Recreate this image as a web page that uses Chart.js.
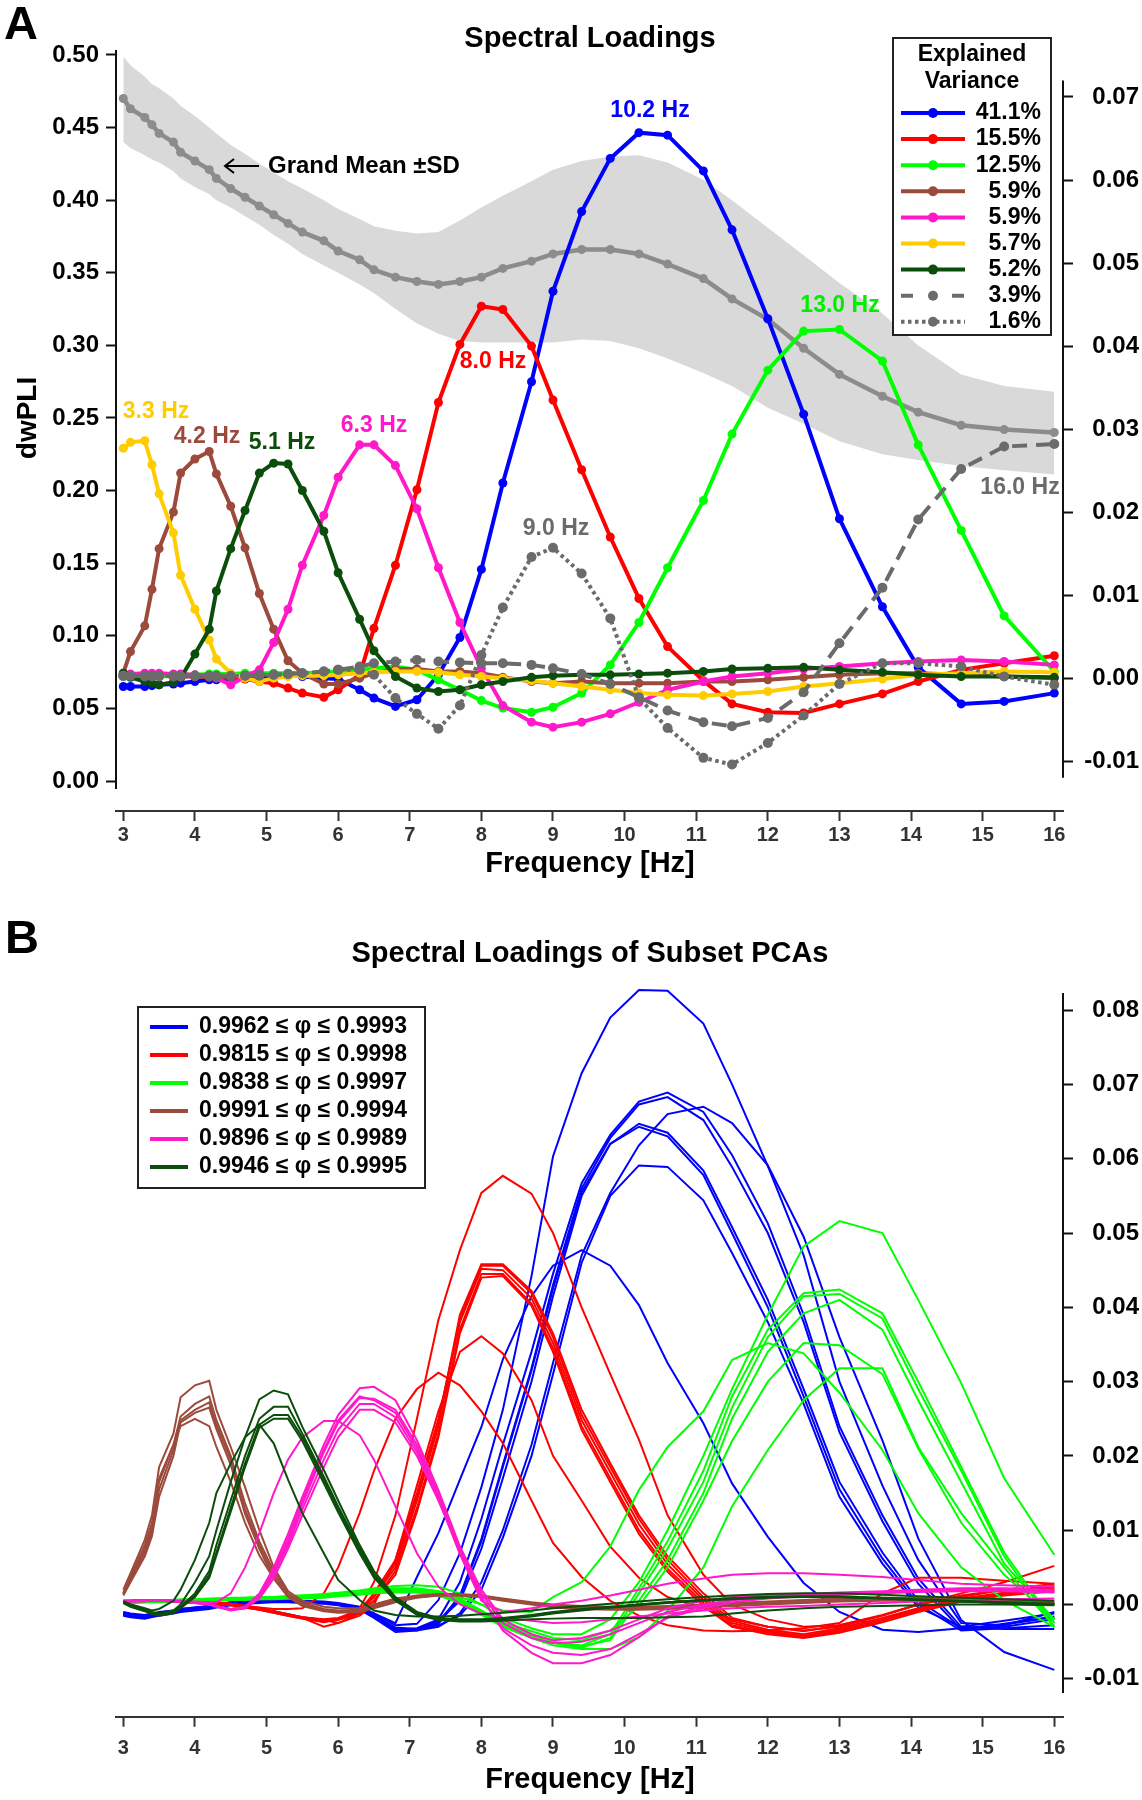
<!DOCTYPE html>
<html>
<head>
<meta charset="utf-8">
<title>Spectral Loadings</title>
<script src="https://cdn.jsdelivr.net/npm/chart.js@4.4.1/dist/chart.umd.min.js"></script>
<style>
  html, body { margin: 0; padding: 0; background: #fff; }
  canvas { display: block; }
</style>
</head>
<body>
<canvas id="chartA" width="1142" height="890"></canvas>
<canvas id="chartB" width="1142" height="910"></canvas>
<script>
// Frequency grid (Hz) shared by every curve
const freqs = [3.0,3.1,3.3,3.4,3.5,3.7,3.8,4.0,4.2,4.3,4.5,4.7,4.9,5.1,5.3,5.5,5.8,6.0,6.3,6.5,
  6.8,7.1,7.4,7.7,8.0,8.3,8.7,9.0,9.4,9.8,10.2,10.6,11.1,11.5,12.0,12.5,13.0,13.6,14.1,14.7,15.3,16.0];
const xTicks = [3,4,5,6,7,8,9,10,11,12,13,14,15,16];
const yTicksA = [0,0.05,0.10,0.15,0.20,0.25,0.30,0.35,0.40,0.45,0.50];
const y2TicksA = [-0.01,0,0.01,0.02,0.03,0.04,0.05,0.06,0.07];
const y2TicksB = [-0.01,0,0.01,0.02,0.03,0.04,0.05,0.06,0.07,0.08];

// Panel A - grand mean dwPLI and +-SD band (left axis)
const grandMean = [.470,.463,.457,.452,.446,.440,.433,.427,.421,.415,.408,.402,.396,.390,.384,.378,.372,.365,.359,.352,
  .347,.344,.342,.344,.347,.353,.358,.363,.366,.366,.363,.356,.346,.332,.318,.298,.280,.265,.254,.245,.242,.240];
const sdUpper = [.499,.493,.485,.480,.477,.470,.465,.458,.450,.446,.438,.432,.425,.419,.413,.408,.400,.394,.387,.382,
  .379,.377,.378,.386,.395,.403,.413,.421,.427,.430,.431,.426,.414,.400,.381,.362,.343,.322,.300,.280,.272,.268];
const sdLower = [.440,.436,.431,.428,.426,.420,.415,.409,.404,.400,.395,.389,.383,.376,.370,.363,.355,.350,.342,.336,
  .325,.315,.308,.303,.302,.302,.302,.302,.304,.303,.298,.291,.281,.272,.257,.246,.234,.225,.221,.217,.214,.211];

// Panel A - spectral loadings (right axis)
const loadBlue = [-.0010,-.0010,-.0010,-.0009,-.0008,-.0007,-.0006,-.0004,-.0002,-.0002,
  -.0001,.0000,.0000,.0001,.0004,.0002,.0000,-.0001,-.0014,-.0024,
  -.0034,-.0026,.0004,.0049,.0131,.0235,.0357,.0466,.0562,.0626,
  .0657,.0654,.0611,.0540,.0433,.0318,.0192,.0086,.0013,-.0031,-.0028,-.0018];
const loadRed = [.0002,.0002,.0003,.0003,.0003,.0002,.0002,.0002,.0001,.0001,
  .0000,-.0001,-.0004,-.0006,-.0012,-.0018,-.0023,-.0014,.0004,.0060,
  .0136,.0227,.0332,.0402,.0448,.0444,.0400,.0335,.0251,.0170,
  .0096,.0038,-.0003,-.0031,-.0041,-.0042,-.0031,-.0019,-.0004,.0010,.0018,.0027];
const loadGreen = [.0002,.0002,.0002,.0002,.0003,.0003,.0004,.0004,.0005,.0005,
  .0005,.0006,.0006,.0006,.0006,.0006,.0007,.0008,.0010,.0012,
  .0014,.0010,-.0002,-.0014,-.0027,-.0036,-.0041,-.0035,-.0018,.0016,
  .0067,.0133,.0214,.0294,.0371,.0418,.0420,.0382,.0281,.0178,.0075,.0008];
const loadBrown = [.0006,.0032,.0063,.0107,.0156,.0200,.0247,.0264,.0273,.0246,
  .0207,.0157,.0102,.0059,.0021,.0006,-.0007,-.0007,.0000,.0006,
  .0011,.0011,.0008,.0008,.0006,.0001,-.0004,-.0006,-.0004,-.0006,
  -.0006,-.0006,-.0004,-.0004,-.0002,.0001,.0004,.0006,.0006,.0004,.0002,.0000];
const loadPink = [.0005,.0005,.0006,.0006,.0006,.0005,.0005,.0004,.0003,.0000,
  -.0008,.0002,.0010,.0043,.0083,.0136,.0196,.0242,.0281,.0281,
  .0256,.0204,.0133,.0067,.0012,-.0033,-.0053,-.0059,-.0053,-.0043,
  -.0029,-.0014,-.0004,.0002,.0006,.0011,.0014,.0018,.0020,.0022,.0020,.0016];
const loadYellow = [.0277,.0284,.0286,.0257,.0222,.0175,.0124,.0083,.0046,.0023,
  .0006,.0000,-.0004,.0000,.0002,.0003,.0003,.0004,.0006,.0007,
  .0008,.0008,.0007,.0004,.0002,.0000,-.0003,-.0006,-.0010,-.0014,
  -.0018,-.0020,-.0021,-.0019,-.0016,-.0010,-.0006,-.0001,.0004,.0006,.0008,.0007];
const loadDkGreen = [.0006,.0001,-.0004,-.0006,-.0008,-.0005,.0000,.0029,.0059,.0105,
  .0156,.0202,.0247,.0259,.0258,.0226,.0177,.0127,.0071,.0033,
  .0002,-.0012,-.0016,-.0014,-.0008,-.0004,.0001,.0003,.0004,.0004,
  .0005,.0006,.0008,.0011,.0012,.0013,.0010,.0007,.0004,.0002,.0002,.0001];
const loadDashed = [.0003,.0003,.0002,.0002,.0002,.0002,.0002,.0002,.0002,.0002,
  .0002,.0003,.0003,.0004,.0005,.0006,.0008,.0010,.0014,.0018,
  .0020,.0022,.0020,.0019,.0018,.0018,.0016,.0012,.0005,-.0007,
  -.0023,-.0039,-.0053,-.0058,-.0048,-.0017,.0042,.0109,.0191,.0252,.0279,.0282];
const loadDotted = [.0003,.0003,.0003,.0003,.0003,.0003,.0003,.0003,.0003,.0003,
  .0003,.0003,.0004,.0004,.0005,.0006,.0008,.0010,.0010,.0004,
  -.0024,-.0043,-.0061,-.0033,.0028,.0085,.0146,.0157,.0126,.0072,
  -.0024,-.0060,-.0096,-.0104,-.0078,-.0045,-.0007,.0018,.0018,.0014,.0002,-.0008];
const variance = ['41.1%','15.5%','12.5%','5.9%','5.9%','5.7%','5.2%','3.9%','1.6%'];

// Panel B - loadings of the subset PCAs (right axis)
const subsetBlue = [
  [-.0010,-.0012,-.0014,-.0012,-.0010,-.0008,-.0006,-.0004,-.0002,.0000,.0003,.0005,.0006,.0006,.0006,.0005,.0004,.0002,-.0003,-.0012,
   -.0028,-.0026,.0006,.0069,.0158,.0262,.0442,.0603,.0715,.0790,.0827,.0826,.0782,.0700,.0590,.0470,.0300,.0160,.0060,-.0025,-.0028,-.0010],
  [-.0013,-.0015,-.0017,-.0015,-.0013,-.0010,-.0008,-.0006,-.0004,-.0002,.0001,.0003,.0004,.0004,.0004,.0003,.0002,.0001,-.0005,-.0016,
   -.0034,-.0032,-.0020,.0030,.0115,.0215,.0340,.0445,.0567,.0632,.0677,.0689,.0663,.0605,.0513,.0390,.0240,.0120,.0035,-.0030,-.0022,-.0012],
  [-.0014,-.0016,-.0018,-.0016,-.0014,-.0011,-.0009,-.0007,-.0005,-.0003,.0000,.0002,.0003,.0004,.0004,.0003,.0002,.0000,-.0006,-.0017,
   -.0036,-.0034,-.0024,.0012,.0088,.0188,.0318,.0430,.0560,.0628,.0673,.0683,.0652,.0589,.0500,.0380,.0232,.0112,.0028,-.0034,-.0026,-.0016],
  [-.0011,-.0013,-.0015,-.0013,-.0011,-.0009,-.0007,-.0005,-.0003,-.0001,.0002,.0004,.0005,.0005,.0005,.0004,.0003,.0001,-.0005,-.0015,
   -.0033,-.0035,-.0030,-.0012,.0030,.0100,.0215,.0325,.0470,.0554,.0618,.0660,.0670,.0648,.0591,.0495,.0360,.0221,.0089,-.0021,-.0064,-.0088],
  [-.0012,-.0014,-.0016,-.0014,-.0012,-.0009,-.0007,-.0005,-.0003,-.0001,.0002,.0004,.0005,.0005,.0004,.0003,.0002,.0000,-.0006,-.0016,
   -.0035,-.0033,-.0022,.0005,.0075,.0170,.0300,.0415,.0550,.0620,.0647,.0635,.0584,.0508,.0410,.0290,.0165,.0070,.0005,-.0032,-.0030,-.0020],
  [-.0015,-.0017,-.0019,-.0017,-.0015,-.0012,-.0010,-.0008,-.0006,-.0004,-.0001,.0001,.0002,.0003,.0003,.0002,.0001,-.0001,-.0007,-.0018,
   -.0037,-.0035,-.0026,.0010,.0085,.0185,.0315,.0425,.0555,.0620,.0643,.0630,.0578,.0500,.0400,.0280,.0155,.0062,.0000,-.0035,-.0032,-.0028],
  [-.0011,-.0013,-.0015,-.0013,-.0011,-.0008,-.0006,-.0004,-.0002,.0000,.0003,.0005,.0006,.0006,.0005,.0004,.0003,.0001,-.0004,-.0014,
   -.0031,-.0033,-.0028,-.0015,.0020,.0090,.0200,.0310,.0460,.0550,.0591,.0589,.0544,.0473,.0380,.0270,.0145,.0055,-.0004,-.0030,-.0033,-.0033],
  [-.0013,-.0015,-.0017,-.0015,-.0013,-.0010,-.0008,-.0006,-.0004,-.0002,.0001,.0003,.0004,.0005,.0005,.0004,.0003,.0001,-.0004,-.0012,
   -.0025,.0037,.0096,.0168,.0239,.0330,.0415,.0456,.0477,.0456,.0403,.0325,.0244,.0163,.0091,.0029,-.0010,-.0034,-.0037,-.0032,-.0027,-.0017]
];
const subsetRed = [
  [.0003,.0003,.0004,.0004,.0004,.0004,.0003,.0003,.0002,.0001,-.0001,-.0004,-.0007,-.0011,-.0015,-.0019,-.0024,-.0020,-.0005,.0030,
   .0120,.0250,.0383,.0477,.0554,.0577,.0553,.0500,.0400,.0310,.0222,.0120,.0040,.0000,-.0020,-.0030,-.0028,-.0015,.0000,.0015,.0030,.0052],
  [.0005,.0005,.0006,.0006,.0006,.0006,.0005,.0005,.0004,.0003,.0001,-.0002,-.0005,-.0009,-.0013,-.0017,-.0021,-.0025,-.0015,.0000,
   .0060,.0160,.0260,.0340,.0361,.0338,.0275,.0200,.0140,.0078,.0036,.0010,-.0005,-.0020,-.0030,-.0035,-.0030,-.0015,.0000,.0010,.0020,.0025],
  [.0004,.0004,.0005,.0005,.0005,.0005,.0004,.0004,.0003,.0002,.0000,-.0002,-.0004,-.0006,-.0006,-.0005,.0015,.0050,.0123,.0180,
   .0250,.0290,.0312,.0295,.0260,.0217,.0140,.0083,.0037,.0005,-.0015,-.0028,-.0035,-.0036,-.0035,-.0032,-.0025,.0015,.0036,.0036,.0032,.0028],
  [.0004,.0004,.0005,.0005,.0005,.0005,.0004,.0004,.0003,.0002,.0000,-.0003,-.0006,-.0010,-.0014,-.0018,-.0022,-.0020,-.0010,.0010,
   .0050,.0140,.0240,.0385,.0456,.0456,.0419,.0360,.0255,.0185,.0115,.0060,.0010,-.0022,-.0034,-.0040,-.0032,-.0018,-.0005,.0008,.0016,.0024],
  [.0005,.0005,.0006,.0006,.0006,.0006,.0005,.0005,.0004,.0003,.0001,-.0002,-.0005,-.0009,-.0013,-.0017,-.0020,-.0018,-.0008,.0015,
   .0060,.0150,.0250,.0380,.0452,.0450,.0412,.0352,.0248,.0178,.0108,.0054,.0006,-.0025,-.0036,-.0042,-.0034,-.0020,-.0006,.0007,.0015,.0022],
  [.0003,.0003,.0004,.0004,.0004,.0004,.0003,.0003,.0002,.0001,-.0001,-.0004,-.0007,-.0011,-.0015,-.0019,-.0023,-.0021,-.0012,.0005,
   .0045,.0130,.0230,.0370,.0445,.0445,.0405,.0345,.0240,.0170,.0100,.0048,.0002,-.0028,-.0038,-.0044,-.0036,-.0022,-.0008,.0005,.0014,.0020],
  [.0004,.0004,.0005,.0005,.0005,.0005,.0004,.0004,.0003,.0002,.0000,-.0003,-.0006,-.0010,-.0014,-.0018,-.0030,-.0025,-.0012,.0005,
   .0040,.0125,.0225,.0365,.0440,.0442,.0402,.0340,.0235,.0165,.0095,.0044,-.0002,-.0030,-.0040,-.0045,-.0038,-.0024,-.0010,.0004,.0012,.0018],
  [.0005,.0005,.0006,.0006,.0006,.0006,.0005,.0005,.0004,.0003,.0001,-.0002,-.0005,-.0009,-.0013,-.0017,-.0021,-.0019,-.0009,.0012,
   .0055,.0145,.0245,.0390,.0458,.0458,.0422,.0365,.0262,.0190,.0120,.0065,.0015,-.0018,-.0030,-.0036,-.0028,-.0014,.0000,.0012,.0020,.0028]
];
const subsetGreen = [
  [.0004,.0004,.0005,.0005,.0006,.0006,.0007,.0007,.0008,.0008,.0009,.0009,.0010,.0010,.0011,.0012,.0014,.0016,.0019,.0022,
   .0025,.0026,.0024,.0015,.0000,-.0018,-.0032,-.0040,-.0040,-.0020,.0030,.0100,.0200,.0290,.0390,.0482,.0516,.0500,.0410,.0298,.0170,.0067],
  [.0003,.0003,.0004,.0004,.0005,.0005,.0006,.0006,.0006,.0007,.0007,.0008,.0008,.0009,.0009,.0010,.0011,.0013,.0015,.0018,
   .0020,.0021,.0018,.0008,-.0008,-.0025,-.0040,-.0050,-.0055,-.0040,.0022,.0085,.0180,.0280,.0370,.0419,.0424,.0392,.0300,.0185,.0070,-.0025],
  [.0002,.0002,.0003,.0003,.0004,.0004,.0005,.0005,.0005,.0006,.0006,.0007,.0007,.0008,.0008,.0009,.0010,.0012,.0014,.0016,
   .0018,.0018,.0014,.0004,-.0012,-.0028,-.0042,-.0052,-.0058,-.0045,.0015,.0075,.0165,.0265,.0360,.0415,.0418,.0385,.0290,.0180,.0065,-.0030],
  [.0003,.0003,.0003,.0004,.0004,.0005,.0005,.0005,.0006,.0006,.0007,.0007,.0008,.0008,.0009,.0010,.0011,.0012,.0014,.0017,
   .0019,.0020,.0016,.0006,-.0010,-.0026,-.0041,-.0051,-.0056,-.0048,.0005,.0060,.0150,.0250,.0340,.0392,.0410,.0370,.0275,.0165,.0055,-.0020],
  [.0004,.0004,.0004,.0005,.0005,.0006,.0006,.0007,.0007,.0008,.0008,.0009,.0009,.0010,.0011,.0012,.0013,.0015,.0017,.0020,
   .0022,.0022,.0018,.0010,.0000,-.0008,-.0010,.0010,.0030,.0078,.0154,.0212,.0260,.0329,.0352,.0338,.0285,.0208,.0123,.0050,.0006,-.0030],
  [.0003,.0003,.0004,.0004,.0005,.0005,.0005,.0006,.0006,.0007,.0007,.0008,.0008,.0009,.0009,.0010,.0011,.0012,.0014,.0016,
   .0018,.0019,.0016,.0006,-.0010,-.0024,-.0036,-.0045,-.0048,-.0035,-.0002,.0050,.0140,.0220,.0300,.0352,.0349,.0310,.0210,.0110,.0040,-.0020],
  [.0002,.0002,.0003,.0003,.0003,.0004,.0004,.0005,.0005,.0005,.0006,.0006,.0007,.0007,.0008,.0008,.0009,.0011,.0013,.0015,
   .0016,.0016,.0012,.0002,-.0014,-.0030,-.0045,-.0055,-.0060,-.0060,-.0044,-.0008,.0050,.0132,.0208,.0275,.0318,.0318,.0212,.0123,.0050,-.0030]
];
const subsetBrown = [
  [.0020,.0042,.0087,.0120,.0185,.0230,.0279,.0295,.0301,.0262,.0212,.0158,.0100,.0050,.0018,.0005,-.0003,-.0005,-.0005,.0000,
   .0008,.0012,.0014,.0014,.0012,.0008,.0003,.0000,-.0002,-.0003,-.0003,-.0002,.0000,.0002,.0004,.0006,.0008,.0009,.0009,.0008,.0006,.0004],
  [.0016,.0035,.0075,.0105,.0165,.0215,.0253,.0270,.0280,.0248,.0200,.0136,.0085,.0045,.0015,.0002,-.0006,-.0008,-.0007,-.0002,
   .0006,.0011,.0013,.0013,.0011,.0007,.0002,-.0002,-.0004,-.0005,-.0005,-.0004,-.0002,.0000,.0002,.0004,.0006,.0007,.0007,.0006,.0004,.0002],
  [.0014,.0032,.0070,.0098,.0155,.0208,.0248,.0262,.0272,.0242,.0195,.0128,.0080,.0040,.0012,.0000,-.0008,-.0010,-.0009,-.0004,
   .0004,.0010,.0012,.0012,.0010,.0006,.0001,-.0003,-.0005,-.0006,-.0006,-.0005,-.0003,-.0001,.0001,.0003,.0005,.0006,.0006,.0005,.0003,.0001],
  [.0012,.0030,.0065,.0092,.0145,.0200,.0245,.0258,.0265,.0236,.0188,.0122,.0075,.0035,.0010,-.0002,-.0009,-.0011,-.0010,-.0005,
   .0003,.0009,.0012,.0012,.0010,.0005,.0000,-.0004,-.0006,-.0007,-.0007,-.0006,-.0004,-.0002,.0000,.0002,.0004,.0005,.0005,.0004,.0002,.0000],
  [.0015,.0038,.0080,.0110,.0170,.0215,.0240,.0250,.0240,.0212,.0165,.0110,.0066,.0035,.0012,.0000,-.0008,-.0010,-.0008,-.0003,
   .0005,.0010,.0013,.0013,.0011,.0007,.0002,-.0002,-.0004,-.0005,-.0005,-.0004,-.0002,.0000,.0002,.0004,.0006,.0007,.0006,.0005,.0003,.0002]
];
const subsetPink = [
  [.0004,.0005,.0006,.0006,.0006,.0005,.0004,.0003,.0001,-.0002,-.0006,-.0003,.0015,.0050,.0095,.0145,.0215,.0255,.0291,.0293,
   .0275,.0221,.0154,.0078,.0020,-.0020,-.0040,-.0048,-.0045,-.0035,-.0020,-.0005,.0005,.0010,.0012,.0014,.0016,.0018,.0020,.0022,.0022,.0020],
  [.0003,.0004,.0005,.0005,.0005,.0004,.0003,.0002,.0000,-.0003,-.0008,-.0005,.0010,.0042,.0085,.0135,.0205,.0245,.0278,.0277,
   .0262,.0215,.0150,.0075,.0010,-.0035,-.0065,-.0079,-.0079,-.0068,-.0044,-.0016,-.0002,.0006,.0010,.0013,.0015,.0017,.0019,.0020,.0020,.0018],
  [.0005,.0005,.0006,.0006,.0006,.0005,.0004,.0003,.0001,-.0002,-.0007,-.0004,.0012,.0045,.0090,.0140,.0208,.0248,.0280,.0275,
   .0258,.0210,.0145,.0070,.0008,-.0032,-.0055,-.0065,-.0068,-.0060,-.0040,-.0018,-.0005,.0003,.0008,.0011,.0013,.0015,.0017,.0018,.0018,.0016],
  [.0004,.0004,.0005,.0005,.0005,.0004,.0003,.0002,.0000,-.0003,-.0007,-.0005,.0008,.0035,.0075,.0120,.0185,.0225,.0262,.0262,
   .0245,.0200,.0140,.0072,.0015,-.0025,-.0045,-.0052,-.0050,-.0040,-.0025,-.0010,.0000,.0006,.0009,.0012,.0014,.0016,.0018,.0019,.0019,.0017],
  [.0004,.0005,.0005,.0006,.0006,.0005,.0005,.0004,.0003,.0003,.0015,.0050,.0096,.0150,.0195,.0225,.0247,.0247,.0228,.0195,
   .0132,.0069,.0024,.0000,-.0012,-.0018,-.0022,-.0025,-.0024,-.0020,-.0016,-.0012,-.0008,-.0005,-.0003,-.0002,.0000,.0002,.0004,.0006,.0007,.0008],
  [.0003,.0004,.0004,.0005,.0005,.0004,.0003,.0002,.0000,-.0002,-.0006,-.0004,.0010,.0040,.0080,.0128,.0195,.0235,.0270,.0270,
   .0252,.0205,.0142,.0068,.0005,-.0010,-.0005,.0000,.0005,.0012,.0020,.0028,.0035,.0040,.0042,.0042,.0040,.0037,.0033,.0028,.0026,.0024]
];
const subsetDkGreen = [
  [.0004,.0000,-.0006,-.0010,-.0012,-.0008,.0000,.0030,.0065,.0100,.0165,.0225,.0276,.0288,.0283,.0239,.0181,.0140,.0080,.0045,
   .0010,-.0010,-.0018,-.0020,-.0020,-.0018,-.0014,-.0010,-.0006,-.0003,.0000,.0003,.0006,.0008,.0010,.0011,.0011,.0009,.0007,.0005,.0003,.0001],
  [.0003,-.0001,-.0007,-.0011,-.0013,-.0010,-.0003,.0015,.0045,.0080,.0140,.0200,.0250,.0266,.0266,.0230,.0172,.0132,.0076,.0041,
   .0008,-.0012,-.0019,-.0021,-.0021,-.0019,-.0015,-.0011,-.0007,-.0004,.0000,.0003,.0006,.0008,.0010,.0010,.0010,.0008,.0006,.0004,.0002,.0000],
  [.0003,-.0002,-.0008,-.0012,-.0014,-.0011,-.0004,.0012,.0040,.0070,.0130,.0190,.0242,.0255,.0255,.0225,.0168,.0128,.0072,.0038,
   .0006,-.0013,-.0020,-.0022,-.0022,-.0020,-.0016,-.0012,-.0008,-.0004,-.0001,.0002,.0005,.0007,.0009,.0010,.0010,.0008,.0006,.0004,.0002,.0000],
  [.0002,-.0003,-.0009,-.0013,-.0015,-.0012,-.0005,.0010,.0036,.0066,.0125,.0185,.0238,.0250,.0250,.0220,.0163,.0124,.0069,.0036,
   .0005,-.0014,-.0021,-.0023,-.0023,-.0022,-.0020,-.0019,-.0018,-.0018,-.0018,-.0017,-.0016,-.0012,-.0008,-.0005,-.0003,-.0002,-.0001,.0000,.0000,-.0001],
  [.0004,.0000,-.0005,-.0008,-.0006,.0005,.0020,.0060,.0110,.0150,.0190,.0225,.0242,.0217,.0168,.0123,.0069,.0033,.0006,-.0008,
   -.0014,-.0016,-.0016,-.0015,-.0013,-.0011,-.0008,-.0005,-.0002,.0001,.0004,.0007,.0010,.0012,.0014,.0015,.0015,.0013,.0011,.0009,.0007,.0005]
];
const phiRanges = ['0.9962 \u2264 \u03c6 \u2264 0.9993','0.9815 \u2264 \u03c6 \u2264 0.9998','0.9838 \u2264 \u03c6 \u2264 0.9997',
  '0.9991 \u2264 \u03c6 \u2264 0.9994','0.9896 \u2264 \u03c6 \u2264 0.9989','0.9946 \u2264 \u03c6 \u2264 0.9995'];

// Styles
const FONT = "'Liberation Sans', Arial, Helvetica, sans-serif";
const C = {
  blue: '#0000ff', red: '#ff0000', green: '#00ff00', brown: '#9c4a3c', pink: '#ff19c8',
  yellow: '#ffcc00', dkgreen: '#0b4d0b', gray: '#6b6b6b', mean: '#8c8c8c', band: '#d9d9d9'
};
const X_MIN = 2.898, X_MAX = 16.1215;

Chart.defaults.font.family = FONT;
Chart.defaults.font.weight = 'bold';
Chart.defaults.animation = false;

const pts = arr => freqs.map((f, i) => ({ x: f, y: arr[i] }));

function txt(ctx, s, x, y, size, color, align, base) {
  ctx.font = 'bold ' + size + 'px ' + FONT;
  ctx.fillStyle = color;
  ctx.textAlign = align || 'center';
  ctx.textBaseline = base || 'middle';
  ctx.fillText(s, x, y);
}

function axisLine(ctx, scale, x, from, to) {
  ctx.save();
  ctx.strokeStyle = '#111';
  ctx.lineWidth = 2;
  ctx.beginPath();
  ctx.moveTo(x, scale.getPixelForValue(from));
  ctx.lineTo(x, scale.getPixelForValue(to));
  ctx.stroke();
  ctx.restore();
}

function rightLabels(ctx, scale, ticks) {
  ticks.forEach(v => txt(ctx, v.toFixed(2), 1139, scale.getPixelForValue(v), 24, '#000', 'right'));
}

function xScale(height, pad) {
  return {
    type: 'linear', min: X_MIN, max: X_MAX,
    afterBuildTicks: s => { s.ticks = xTicks.map(v => ({ value: v })); },
    afterFit: s => { s.height = height; },
    border: { display: true, color: '#333', width: 2 },
    grid: { drawOnChartArea: false, tickLength: 10, tickWidth: 2, tickColor: '#333' },
    ticks: { color: '#333', font: { size: 20, weight: 'bold' }, padding: pad, maxRotation: 0, autoSkip: false,
      callback: v => String(v) }
  };
}

function yScale(pos, min, max, ticks, width, showLabels) {
  return {
    position: pos, min: min, max: max,
    afterBuildTicks: s => { s.ticks = ticks.map(v => ({ value: v })); },
    afterFit: s => { s.width = width; },
    border: { display: false },
    grid: { drawOnChartArea: false, tickLength: 10, tickWidth: 2, tickColor: '#111' },
    ticks: { display: showLabels, color: '#000', font: { size: 24, weight: 'bold' }, padding: 7,
      callback: v => v.toFixed(2) }
  };
}

// ---------- Panel A ----------
const seriesA = [
  { data: loadBlue, color: C.blue },
  { data: loadRed, color: C.red },
  { data: loadGreen, color: C.green },
  { data: loadBrown, color: C.brown },
  { data: loadPink, color: C.pink },
  { data: loadYellow, color: C.yellow },
  { data: loadDkGreen, color: C.dkgreen },
  { data: loadDashed, color: C.gray, dash: [15, 9] },
  { data: loadDotted, color: C.gray, dash: [3.5, 3.5] }
];

const datasetsA = [
  { data: pts(sdUpper), yAxisID: 'y', borderColor: 'rgba(0,0,0,0)', pointRadius: 0, fill: false },
  { data: pts(sdLower), yAxisID: 'y', borderColor: 'rgba(0,0,0,0)', pointRadius: 0, fill: '-1', backgroundColor: C.band },
  { data: pts(grandMean), yAxisID: 'y', borderColor: C.mean, borderWidth: 4.5, pointRadius: 4.5,
    pointBackgroundColor: C.mean, pointBorderWidth: 0 }
].concat(seriesA.map(s => ({
  data: pts(s.data), yAxisID: 'y2', borderColor: s.color, borderWidth: 4, borderDash: s.dash || [],
  borderCapStyle: 'butt', pointRadius: s.dash ? 5 : 4.5, pointBackgroundColor: s.color, pointBorderWidth: 0
}))).map((d, i) => Object.assign(d, { order: -i, tension: 0, pointHoverRadius: 0 }));

const peakLabelsA = [
  ['3.3 Hz', 156, 412, C.yellow], ['4.2 Hz', 207, 437, C.brown], ['5.1 Hz', 282, 443, C.dkgreen],
  ['6.3 Hz', 374, 426, C.pink], ['8.0 Hz', 493, 362, C.red], ['9.0 Hz', 556, 529, C.gray],
  ['10.2 Hz', 650, 111, C.blue], ['13.0 Hz', 840, 306, '#00ee00'], ['16.0 Hz', 1020, 488, C.gray]
];

const decorA = {
  id: 'decorA',
  afterDraw(chart) {
    const { ctx, chartArea: a, scales } = chart;
    axisLine(ctx, scales.y, a.left, 0.5034, -0.0055);
    axisLine(ctx, scales.y2, a.right, 0.0720, -0.0120);
    rightLabels(ctx, scales.y2, y2TicksA);

    txt(ctx, 'A', 4, 39, 47, '#000', 'left', 'alphabetic');
    txt(ctx, 'Spectral Loadings', 590, 47, 29, '#000', 'center', 'alphabetic');
    txt(ctx, 'Frequency [Hz]', 590, 864, 29, '#000');
    ctx.save();
    ctx.translate(28, 418);
    ctx.rotate(-Math.PI / 2);
    txt(ctx, 'dwPLI', 0, 0, 28, '#000');
    ctx.restore();

    peakLabelsA.forEach(p => txt(ctx, p[0], p[1], p[2], 23, p[3]));

    // Grand mean note with arrow
    txt(ctx, 'Grand Mean \u00b1SD', 268, 166, 24, '#000', 'left');
    ctx.save();
    ctx.strokeStyle = '#000';
    ctx.lineWidth = 2;
    ctx.beginPath();
    ctx.moveTo(259, 166); ctx.lineTo(225, 166);
    ctx.moveTo(234, 159); ctx.lineTo(225, 166); ctx.lineTo(234, 173);
    ctx.stroke();
    ctx.restore();

    // Legend
    ctx.save();
    ctx.fillStyle = '#fff';
    ctx.fillRect(893, 38, 158, 297);
    ctx.strokeStyle = '#222';
    ctx.lineWidth = 2;
    ctx.strokeRect(893, 38, 158, 297);
    txt(ctx, 'Explained', 972, 55, 23, '#000');
    txt(ctx, 'Variance', 972, 82, 23, '#000');
    seriesA.forEach((s, i) => {
      const y = 113 + i * 26.1;
      ctx.strokeStyle = s.color;
      ctx.lineWidth = 4;
      ctx.lineCap = 'butt';
      ctx.setLineDash(s.dash ? (s.dash[0] > 5 ? [12, 39] : s.dash) : []);
      ctx.beginPath();
      ctx.moveTo(901, y); ctx.lineTo(965, y);
      ctx.stroke();
      ctx.setLineDash([]);
      ctx.fillStyle = s.color;
      ctx.beginPath();
      ctx.arc(933, y, 5, 0, Math.PI * 2);
      ctx.fill();
      txt(ctx, variance[i], 1041, y, 23, '#000', 'right');
    });
    ctx.restore();
  }
};

new Chart(document.getElementById('chartA').getContext('2d'), {
  type: 'line',
  data: { datasets: datasetsA },
  options: {
    responsive: false,
    animation: false,
    layout: { padding: { top: 48, left: 0, right: 3, bottom: 0 } },
    plugins: { legend: { display: false }, tooltip: { enabled: false } },
    scales: {
      x: xScale(79, 2),
      y: yScale('left', -0.02066, 0.5048, yTicksA, 116, true),
      y2: yScale('right', -0.0160, 0.0759, y2TicksA, 76, false)
    }
  },
  plugins: [decorA]
});

// ---------- Panel B ----------
const groupsB = [
  { curves: subsetBlue, color: C.blue },
  { curves: subsetRed, color: C.red },
  { curves: subsetGreen, color: C.green },
  { curves: subsetBrown, color: C.brown },
  { curves: subsetPink, color: C.pink },
  { curves: subsetDkGreen, color: C.dkgreen }
];

const datasetsB = [];
groupsB.forEach(g => g.curves.forEach(c => datasetsB.push({
  data: pts(c), yAxisID: 'y2', borderColor: g.color, borderWidth: 2, pointRadius: 0, pointHoverRadius: 0, tension: 0
})));
datasetsB.forEach((d, i) => { d.order = -i; });

const decorB = {
  id: 'decorB',
  afterDraw(chart) {
    const { ctx, chartArea: a, scales } = chart;
    axisLine(ctx, scales.y2, a.right, 0.0823, -0.0119);
    rightLabels(ctx, scales.y2, y2TicksB);

    txt(ctx, 'B', 5, 63, 47, '#000', 'left', 'alphabetic');
    txt(ctx, 'Spectral Loadings of Subset PCAs', 590, 72, 29, '#000', 'center', 'alphabetic');
    txt(ctx, 'Frequency [Hz]', 590, 890, 29, '#000');

    // Legend
    ctx.save();
    ctx.fillStyle = '#fff';
    ctx.fillRect(138, 117, 287, 181);
    ctx.strokeStyle = '#222';
    ctx.lineWidth = 2;
    ctx.strokeRect(138, 117, 287, 181);
    groupsB.forEach((g, i) => {
      const y = 137 + i * 28;
      ctx.strokeStyle = g.color;
      ctx.lineWidth = 4;
      ctx.beginPath();
      ctx.moveTo(150, y); ctx.lineTo(188, y);
      ctx.stroke();
      txt(ctx, phiRanges[i], 199, y, 23, '#000', 'left');
    });
    ctx.restore();
  }
};

new Chart(document.getElementById('chartB').getContext('2d'), {
  type: 'line',
  data: { datasets: datasetsB },
  options: {
    responsive: false,
    animation: false,
    layout: { padding: { top: 95, left: 116, right: 3, bottom: 0 } },
    plugins: { legend: { display: false }, tooltip: { enabled: false } },
    scales: {
      x: xScale(83.3, 10),
      y2: yScale('right', -0.0151, 0.08338, y2TicksB, 76, false)
    }
  },
  plugins: [decorB]
});
</script>
</body>
</html>
